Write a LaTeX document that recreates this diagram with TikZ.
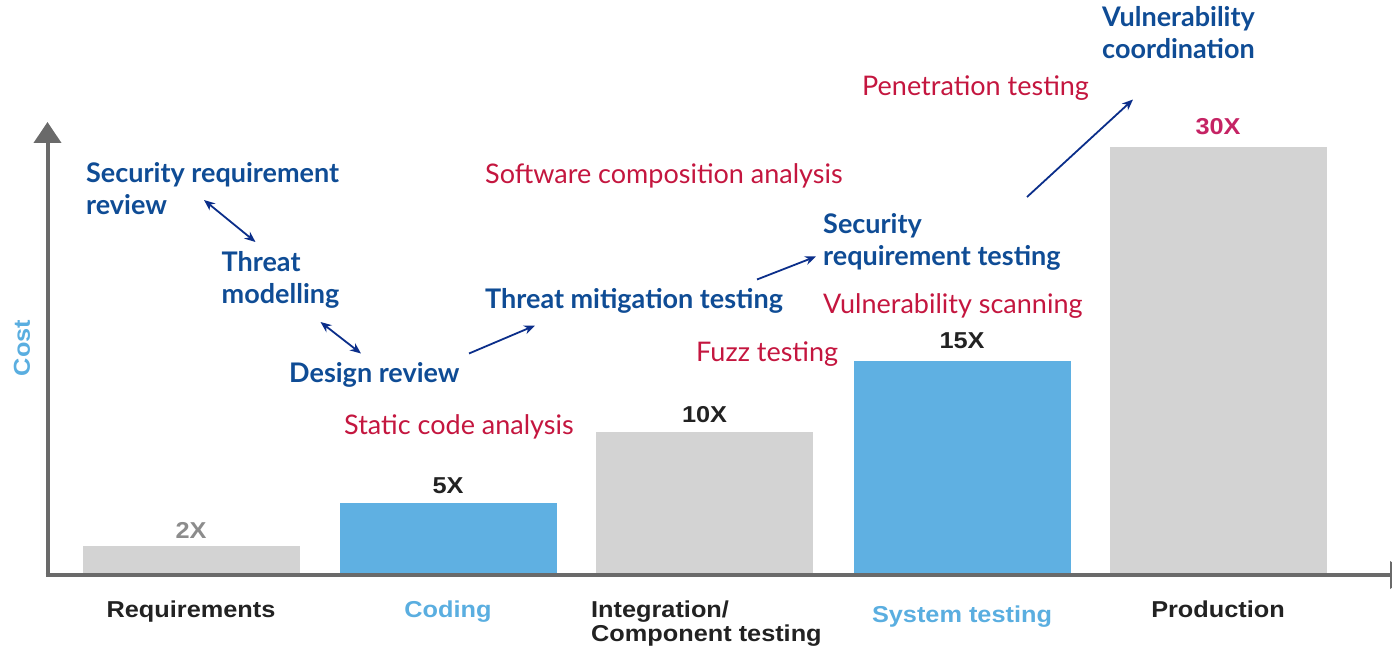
\documentclass[tikz,border=0pt]{standalone}
\usepackage{fontspec}
\setmainfont{Lato}
\newfontfamily\barfont[FakeStretch=1.1]{Liberation Sans}
\usepackage{tikz}
\usetikzlibrary{calc, arrows.meta, positioning}
\usepackage{xcolor}
\definecolor{secblue}{HTML}{0F4C95}
\definecolor{secred}{HTML}{C4163F}
\definecolor{linknavy}{HTML}{0B2E8A}
\definecolor{bargray}{HTML}{D3D3D3}
\definecolor{barblue}{HTML}{5FB0E2}
\definecolor{axisgray}{HTML}{6A6A6A}
\definecolor{phaseblue}{HTML}{5AAEE0}
\definecolor{phasedark}{HTML}{222222}
\definecolor{lowgray}{HTML}{8C8C8C}
\definecolor{topred}{HTML}{C52364}
\tikzstyle{activity} = [anchor=north west, inner sep=0pt, align=left, text=secblue, font=\fontsize{27}{32}\selectfont\bfseries]
\tikzstyle{tool} = [anchor=north west, inner sep=0pt, align=left, text=secred, font=\fontsize{27}{32}\selectfont]
\tikzstyle{graybar} = [rectangle, fill=bargray, minimum width=217pt, anchor=south, inner sep=0pt]
\tikzstyle{bluebar} = [rectangle, fill=barblue, minimum width=217pt, anchor=south, inner sep=0pt]
\tikzstyle{factor} = [inner sep=0pt, text=phasedark, font=\barfont\bfseries\fontsize{23}{23}\selectfont]
\tikzstyle{phase} = [anchor=base, inner sep=0pt, text=phasedark, align=left, font=\barfont\bfseries\fontsize{23}{24}\selectfont]
\tikzstyle{link} = [draw=linknavy, line width=1.8pt, -{Stealth[length=11pt,width=9pt]}]
\tikzstyle{twoway} = [draw=linknavy, line width=1.8pt, {Stealth[length=11pt,width=9pt]}-{Stealth[length=11pt,width=9pt]}]
\tikzstyle{axis} = [draw=axisgray, line width=4pt, -{Triangle[length=21pt,width=27pt]}]

\begin{document}
\begin{tikzpicture}[x=1pt, y=-1pt]
        \useasboundingbox (0,0) rectangle (1392,647);

        % bars
        \node (reqbar) [graybar, minimum height=29pt] at (191,575) {};
        \node (codebar) [bluebar, minimum height=72pt] at (448,575) {};
        \node (intbar) [graybar, minimum height=143pt] at (704.5,575) {};
        \node (sysbar) [bluebar, minimum height=214pt] at (962,575) {};
        \node (prodbar) [graybar, minimum height=428pt] at (1218,575) {};

        \node (reqval) [factor, text=lowgray, above=7pt of reqbar] {2X};
        \node (codeval) [factor, above=9pt of codebar] {5X};
        \node (intval) [factor, above=9pt of intbar] {10X};
        \node (sysval) [factor, above=12pt of sysbar] {15X};
        \node (prodval) [factor, text=topred, above=12pt of prodbar] {30X};

        % axes
        \coordinate (origin) at (47.5,575);
        \coordinate (ytip) at (47.5,122);
        \coordinate (xtip) at (1411,575);
        \draw[axis] (origin) -- (ytip);
        \draw[axis] ([xshift=-2pt]origin) -- (xtip);
        \node (cost) [rotate=90, inner sep=0pt, text=phaseblue, font=\barfont\bfseries\fontsize{23}{23}\selectfont] at (22,348) {Cost};

        \node (req) [phase] at (191,617) {Requirements};
        \node (coding) [phase, text=phaseblue] at (448,617) {Coding};
        \node (integration) [phase, anchor=north west] at (591,600.5) {Integration/\\Component testing};
        \node (system) [phase, text=phaseblue] at (962,622) {System testing};
        \node (production) [phase] at (1218,617) {Production};

        % activities
        \node (secreview) [activity] at (86,162) {Security requirement\\review};
        \node (threatmod) [activity] at (221.5,251) {Threat\\modelling};
        \node (design) [activity] at (289,362.5) {Design review};
        \node (mitigation) [activity] at (485,288.5) {Threat mitigation testing};
        \node (secreqtest) [activity] at (823,213) {Security\\requirement testing};
        \node (vulncoord) [activity] at (1102,6.5) {Vulnerability\\coordination};

        % tools
        \node (sca) [tool] at (485,163) {Software composition analysis};
        \node (static) [tool] at (344,414.5) {Static code analysis};
        \node (fuzz) [tool] at (696,342) {Fuzz testing};
        \node (scanning) [tool] at (823,293.5) {Vulnerability scanning};
        \node (pentest) [tool] at (862,75.5) {Penetration testing};

        \draw[twoway] ($(secreview.north west)+(118,38)$) -- ($(threatmod.north west)+(34,-9)$);
        \draw[twoway] ($(threatmod.north west)+(99,71)$) -- ($(design.north west)+(72,-9)$);
        \draw[link] ($(design.north west)+(180,-9)$) -- ($(mitigation.north west)+(50,37)$);
        \draw[link] ($(mitigation.north west)+(272,-9)$) -- ($(secreqtest.north west)+(-7,43.5)$);
        \draw[link] ($(secreqtest.north west)+(204,-16)$) -- ($(vulncoord.north west)+(31,93)$);

    \end{tikzpicture}
\end{document}
